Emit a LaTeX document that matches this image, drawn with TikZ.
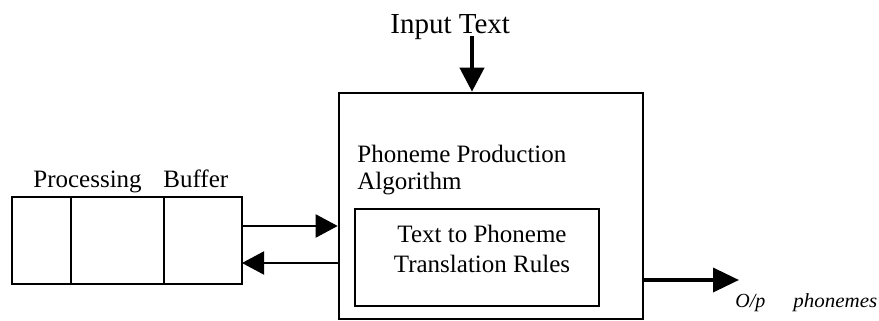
\documentclass[tikz,border=0pt]{standalone}
\usepackage{fontspec}
\setmainfont{Liberation Serif}
\usetikzlibrary{arrows.meta,positioning}

\begin{document}
\begin{tikzpicture}[x=0.5pt, y=-0.5pt,
    every node/.style={font=\fontsize{12.5}{15}\selectfont},
    cell/.style={draw, line width=1pt, minimum height=43.5pt, inner sep=0pt, outer sep=0pt},
    flow/.style={line width=1pt, -{Triangle[length=11pt, width=11.5pt]}},
    bigflow/.style={line width=2pt, -{Triangle[length=12pt, width=12pt]}}]

\useasboundingbox (0,0) rectangle (879,321);

% ============================================================
%  Processing buffer (three cells)
% ============================================================
\node[cell, minimum width=29.5pt] (cellA) at (41.5,240.5) {};
\node[cell, minimum width=46.5pt, right=0pt of cellA] (cellB) {};
\node[cell, minimum width=39pt, right=0pt of cellB] (cellC) {};

\node[anchor=base west, inner sep=0pt] (proclbl) at (33,187) {Processing};
\node[anchor=base west, inner sep=0pt] (buflbl) at (163,187) {Buffer};

% ============================================================
%  Phoneme production block
% ============================================================
\node[draw, line width=1.3pt, minimum width=152pt, minimum height=113pt,
      inner sep=0pt] (ppa) at (491,206) {};
\node[anchor=base west, inner sep=0pt] (ppalbl) at (357,162) {Phoneme Production};
\node[anchor=base west, inner sep=0pt] (algolbl) at (357,189) {Algorithm};

% inner rules box
\node[draw, line width=1pt, minimum width=122pt, minimum height=48.5pt,
      inner sep=0pt] (rules) at (477,257.5) {};
% (base of a two-line node = last line)
\node[align=center, anchor=base, inner sep=0pt] (ruleslbl) at (482,272)
     {Text to Phoneme\\Translation Rules};

% ============================================================
%  Input and output
% ============================================================
\node[anchor=base west, inner sep=0pt, font=\fontsize{14.5}{17}\selectfont]
     (inlbl) at (390,33) {Input Text};
\coordinate (intop) at (472,36);
\draw[bigflow] (intop) -- (intop |- ppa.north);

\coordinate (outend) at (739,280);
\draw[bigflow, -{Triangle[length=13pt, width=12pt]}, line width=1.8pt]
     (outend -| ppa.east) -- (outend);
\node[anchor=base west, inner sep=0pt, font=\fontsize{10}{12}\selectfont\itshape]
     (oplbl) at (735,307) {O/p};
\node[anchor=base west, inner sep=0pt, font=\fontsize{10}{12}\selectfont\itshape]
     (phonlbl) at (793,307) {\scalebox{1.05}[1]{phonemes}};

% ---- buffer <-> algorithm ----
\coordinate (fwd) at (290,226);
\coordinate (bwd) at (290,263);
\draw[flow] (cellC.east |- fwd) -- (ppa.west |- fwd);
\draw[flow] (ppa.west |- bwd) -- (cellC.east |- bwd);

\end{tikzpicture}
\end{document}
